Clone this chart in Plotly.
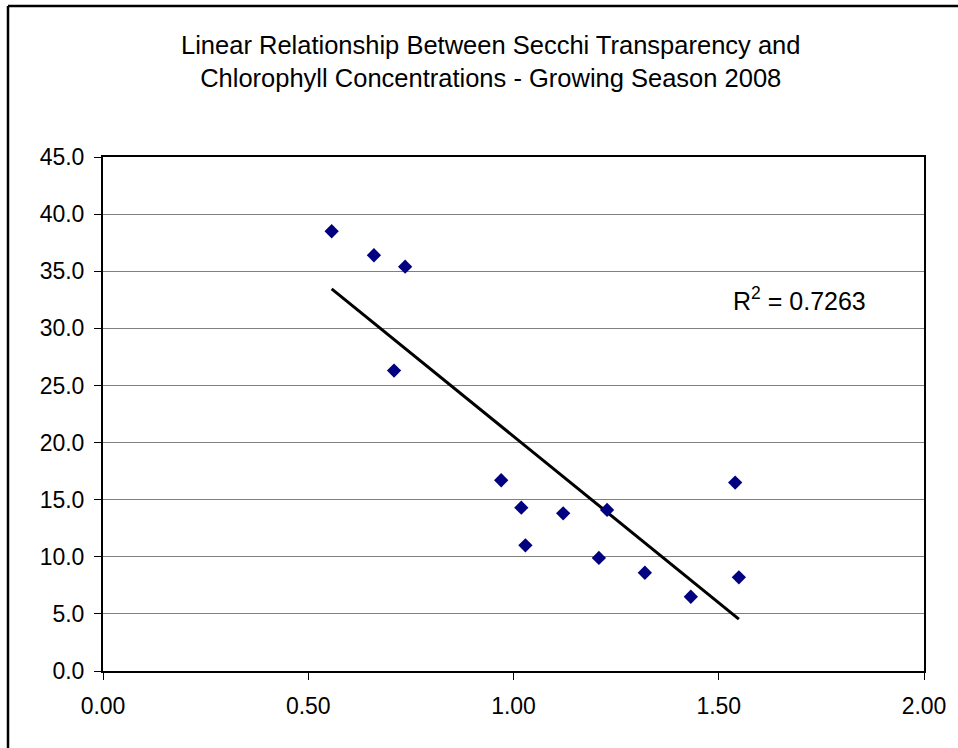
import numpy as np
import plotly.graph_objects as go

# Data (Secchi transparency in m, chlorophyll in ug/L)
secchi = [0.557, 0.660, 0.736, 0.709, 0.970, 1.019, 1.121, 1.228, 1.029, 1.208, 1.320, 1.432, 1.549, 1.540]
chlorophyll = [38.5, 36.4, 35.4, 26.3, 16.7, 14.3, 13.8, 14.1, 11.0, 9.9, 8.6, 6.5, 8.2, 16.5]
x_ticks = [0.0, 0.5, 1.0, 1.5, 2.0]
y_ticks = [0, 5, 10, 15, 20, 25, 30, 35, 40, 45]
title_text = "Linear Relationship Between Secchi Transparency and<br>Chlorophyll Concentrations - Growing Season 2008"
r2_text = "R<sup>2</sup> = 0.7263"

xs = np.array(secchi)
ys = np.array(chlorophyll)
slope, intercept = np.polyfit(xs, ys, 1)
fit_x = np.array([xs.min(), xs.max()])
fit_y = slope * fit_x + intercept

FONT = "Liberation Sans, Arial, sans-serif"
L, R, T, B = 103, 34, 157, 77
PW, PH = 958 - L - R, 748 - T - B


def px_x(p):
    return (p - L) / PW


def px_y(p):
    return (748 - B - p) / PH


fig = go.Figure()
fig.add_trace(go.Scatter(
    x=fit_x, y=fit_y, mode="lines",
    line=dict(color="black", width=3),
    showlegend=False, hoverinfo="skip",
))
fig.add_trace(go.Scatter(
    x=secchi, y=chlorophyll, mode="markers",
    marker=dict(symbol="diamond", size=11, color="#000080", line=dict(width=0)),
    showlegend=False, hoverinfo="x+y",
))

fig.update_layout(
    width=958, height=748,
    margin=dict(l=L, r=R, t=T, b=B),
    paper_bgcolor="white", plot_bgcolor="white",
    font=dict(family=FONT, color="black", size=23),
    xaxis=dict(
        range=[0, 2], tickvals=x_ticks, tickformat=".2f",
        showgrid=False, zeroline=False,
        showline=True, linecolor="black", linewidth=2, mirror=True,
        ticks="outside", ticklen=7, tickcolor="black", tickwidth=1,
        ticklabelstandoff=6,
        tickfont=dict(size=23, family=FONT),
    ),
    yaxis=dict(
        range=[0, 45], tickvals=y_ticks, tickformat=".1f",
        showgrid=True, gridcolor="#808080", gridwidth=1, zeroline=False,
        showline=True, linecolor="black", linewidth=2, mirror=True,
        ticks="outside", ticklen=7, tickcolor="black", tickwidth=1,
        ticklabelstandoff=5,
        tickfont=dict(size=23, family=FONT),
    ),
    annotations=[
        dict(text=title_text, xref="paper", yref="paper",
             x=px_x(490), y=px_y(61),
             xanchor="center", yanchor="middle", showarrow=False,
             font=dict(size=25.5, family=FONT), align="center"),
        dict(text=r2_text, xref="paper", yref="paper",
             x=px_x(731), y=px_y(299),
             xanchor="left", yanchor="middle", showarrow=False,
             font=dict(size=25, family=FONT)),
    ],
    shapes=[
        # outer chart-area border (left and top edges visible in the crop)
        dict(type="line", xref="paper", yref="paper",
             x0=px_x(8), x1=px_x(8), y0=px_y(6), y1=px_y(800),
             line=dict(color="black", width=2.5), layer="below"),
        dict(type="line", xref="paper", yref="paper",
             x0=px_x(8), x1=px_x(1000), y0=px_y(6), y1=px_y(6),
             line=dict(color="black", width=2.5), layer="below"),
    ],
)

fig.write_html(
    "out.html",
    config={"displayModeBar": False},
    post_script="document.body.style.margin='0';document.body.style.overflow='hidden';",
)
